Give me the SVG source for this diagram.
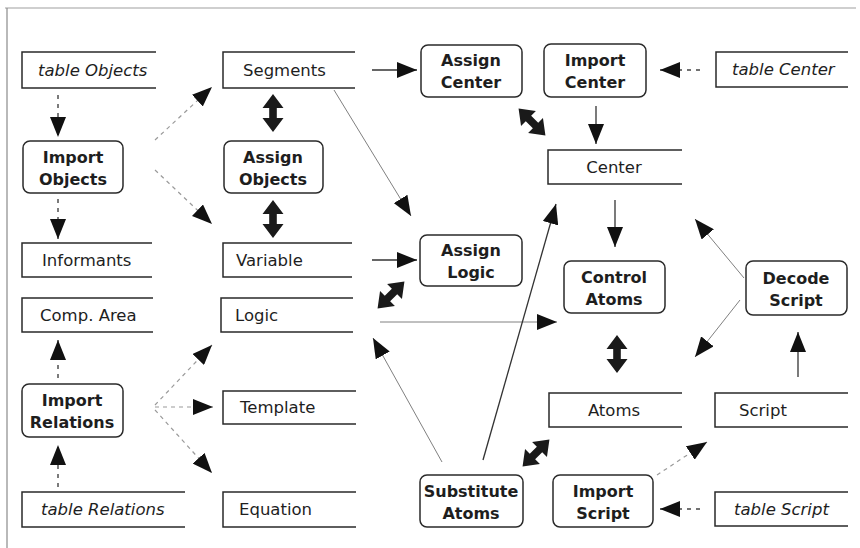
<svg xmlns="http://www.w3.org/2000/svg" width="860" height="548" viewBox="0 0 860 548">
  <style>
    .store { fill: none; stroke: #2a2a2a; stroke-width: 1.5; }
    .proc { fill: #fff; stroke: #2a2a2a; stroke-width: 1.5; }
    .st { font-family: "DejaVu Sans", "Liberation Sans", sans-serif; font-size: 16.5px; fill: #1e1e1e; }
    .it { font-style: italic; }
    .pt { font-family: "DejaVu Sans", "Liberation Sans", sans-serif; font-size: 16px; font-weight: bold; fill: #1e1e1e; text-anchor: middle; }
    .solid { stroke: #333; stroke-width: 1.3; fill: none; marker-end: url(#ah); }
    .thin { stroke: #808080; stroke-width: 1; fill: none; marker-end: url(#ah); }
    .dash { stroke: #444; stroke-width: 1.4; stroke-dasharray: 4 5; fill: none; marker-end: url(#ah); }
    .ldash { stroke: #9a9a9a; stroke-width: 1.2; stroke-dasharray: 4 4; fill: none; marker-end: url(#ah); }
    .dbl { fill: #1a1a1a; }
  </style>
  <defs>
    <marker id="ah" markerUnits="userSpaceOnUse" markerWidth="20" markerHeight="16" refX="20" refY="8" orient="auto">
      <path d="M0,0 L20,8 L0,16 Z" fill="#111"/>
    </marker>
    <path id="dblarrow" d="M-19,0 L-5,-10.5 L-5,-3.8 L5,-3.8 L5,-10.5 L19,0 L5,10.5 L5,3.8 L-5,3.8 L-5,10.5 Z"/>
  </defs>

  <!-- frame -->
  <line x1="5" y1="8" x2="856" y2="8" stroke="#a0a0a0" stroke-width="1.2"/>
  <line x1="7" y1="8" x2="7" y2="548" stroke="#8a8a8a" stroke-width="1.2"/>

  <!-- connectors -->
  <g id="connectors">
    <line class="dash" x1="58" y1="95" x2="58" y2="137"/>
    <line class="dash" x1="58" y1="199" x2="58" y2="239"/>
    <line class="ldash" x1="155" y1="140" x2="212" y2="87"/>
    <line class="ldash" x1="155" y1="170" x2="212" y2="224"/>
    <line class="solid" x1="372" y1="70" x2="417" y2="70"/>
    <line class="thin" x1="334" y1="90" x2="411" y2="216"/>
    <line class="solid" x1="372" y1="260" x2="417" y2="260"/>
    <line class="thin" x1="380" y1="322" x2="557" y2="322"/>
    <line class="thin" x1="442" y1="462" x2="373" y2="338"/>
    <line class="solid" x1="483" y1="460" x2="556" y2="204"/>
    <line class="solid" x1="596" y1="106" x2="596" y2="144"/>
    <line class="dash" x1="700" y1="70" x2="660" y2="70"/>
    <line class="solid" x1="615" y1="200" x2="615" y2="247"/>
    <line class="thin" x1="744" y1="278" x2="695" y2="219"/>
    <line class="thin" x1="740" y1="300" x2="695" y2="357"/>
    <line class="solid" x1="798" y1="377" x2="798" y2="332"/>
    <line class="ldash" x1="657" y1="475" x2="707" y2="442"/>
    <line class="dash" x1="700" y1="509" x2="660" y2="509"/>
    <line class="dash" x1="58" y1="378" x2="58" y2="340"/>
    <line class="dash" x1="58" y1="487" x2="58" y2="445"/>
    <line class="ldash" x1="155" y1="405" x2="212" y2="345"/>
    <line class="ldash" x1="155" y1="407" x2="213" y2="407"/>
    <line class="ldash" x1="155" y1="410" x2="212" y2="473"/>
    <!-- two-way links -->
    <use href="#dblarrow" class="dbl" transform="translate(273,113) rotate(90)"/>
    <use href="#dblarrow" class="dbl" transform="translate(273,219) rotate(90)"/>
    <use href="#dblarrow" class="dbl" transform="translate(391,295) rotate(-45)"/>
    <use href="#dblarrow" class="dbl" transform="translate(532,122) rotate(45)"/>
    <use href="#dblarrow" class="dbl" transform="translate(617,354) rotate(90)"/>
    <use href="#dblarrow" class="dbl" transform="translate(536,453) rotate(-45)"/>
  </g>

  <!-- data stores -->
  <g id="table-objects"><path class="store" d="M156,52 H22 V88 H156"/><text class="st it" x="38" y="76">table Objects</text></g>
  <g id="segments"><path class="store" d="M355,52 H223 V88 H355"/><text class="st" x="243" y="76">Segments</text></g>
  <g id="informants"><path class="store" d="M152,243 H22 V277 H152"/><text class="st" x="42" y="266">Informants</text></g>
  <g id="variable"><path class="store" d="M352,243 H223 V277 H352"/><text class="st" x="236" y="266">Variable</text></g>
  <g id="comp-area"><path class="store" d="M153,298 H22 V332 H153"/><text class="st" x="40" y="321">Comp. Area</text></g>
  <g id="logic"><path class="store" d="M353,298 H221 V332 H353"/><text class="st" x="235" y="321">Logic</text></g>
  <g id="template"><path class="store" d="M356,391 H223 V424 H356"/><text class="st" x="240" y="413">Template</text></g>
  <g id="table-relations"><path class="store" d="M185,492 H22 V527 H185"/><text class="st it" x="41" y="515">table Relations</text></g>
  <g id="equation"><path class="store" d="M356,492 H223 V527 H356"/><text class="st" x="239" y="515">Equation</text></g>
  <g id="center"><path class="store" d="M682,150 H548 V184 H682"/><text class="st" x="614" y="173" text-anchor="middle">Center</text></g>
  <g id="table-center"><path class="store" d="M848,52 H716 V87 H848"/><text class="st it" x="732" y="75">table Center</text></g>
  <g id="atoms"><path class="store" d="M682,393 H549 V427 H682"/><text class="st" x="614" y="416" text-anchor="middle">Atoms</text></g>
  <g id="script"><path class="store" d="M848,393 H715 V427 H848"/><text class="st" x="739" y="416">Script</text></g>
  <g id="table-script"><path class="store" d="M848,492 H715 V526 H848"/><text class="st it" x="734" y="515">table Script</text></g>

  <!-- processes -->
  <g id="import-objects"><rect class="proc" x="23" y="141" width="100" height="52" rx="7"/><text class="pt" x="73" y="163">Import</text><text class="pt" x="73" y="185">Objects</text></g>
  <g id="assign-objects"><rect class="proc" x="224" y="141" width="99" height="52" rx="7"/><text class="pt" x="273" y="163">Assign</text><text class="pt" x="273" y="185">Objects</text></g>
  <g id="assign-center"><rect class="proc" x="421" y="45" width="101" height="52" rx="7"/><text class="pt" x="471" y="66">Assign</text><text class="pt" x="471" y="88">Center</text></g>
  <g id="import-center"><rect class="proc" x="544" y="44" width="102" height="53" rx="7"/><text class="pt" x="595" y="66">Import</text><text class="pt" x="595" y="88">Center</text></g>
  <g id="assign-logic"><rect class="proc" x="420" y="235" width="102" height="51" rx="7"/><text class="pt" x="471" y="256">Assign</text><text class="pt" x="471" y="278">Logic</text></g>
  <g id="control-atoms"><rect class="proc" x="564" y="261" width="101" height="52" rx="7"/><text class="pt" x="614" y="283">Control</text><text class="pt" x="614" y="305">Atoms</text></g>
  <g id="decode-script"><rect class="proc" x="746" y="261" width="101" height="54" rx="7"/><text class="pt" x="796" y="284">Decode</text><text class="pt" x="796" y="306">Script</text></g>
  <g id="import-relations"><rect class="proc" x="22" y="384" width="101" height="53" rx="7"/><text class="pt" x="72" y="406">Import</text><text class="pt" x="72" y="428">Relations</text></g>
  <g id="substitute-atoms"><rect class="proc" x="420" y="475" width="103" height="52" rx="7"/><text class="pt" x="471" y="497">Substitute</text><text class="pt" x="471" y="519">Atoms</text></g>
  <g id="import-script"><rect class="proc" x="553" y="475" width="100" height="52" rx="7"/><text class="pt" x="603" y="497">Import</text><text class="pt" x="603" y="519">Script</text></g>
</svg>
